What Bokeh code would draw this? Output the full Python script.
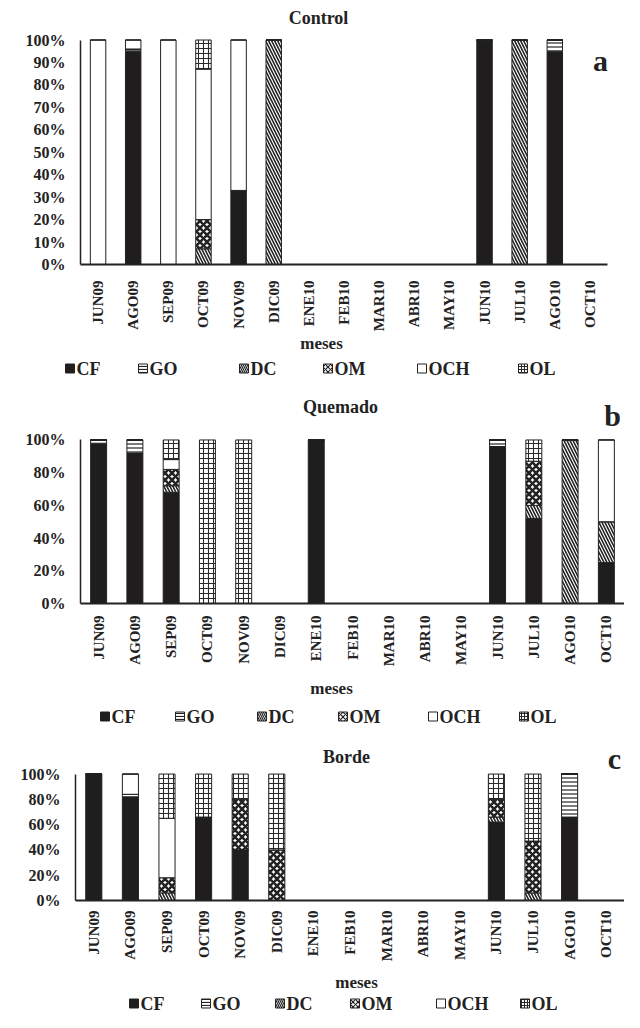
import math
from bokeh.plotting import figure
from bokeh.models import FactorRange, Range1d, FixedTicker, Label, ColumnDataSource
from bokeh.layouts import column
from bokeh.transform import stack
from bokeh.core.properties import value
from bokeh.embed import file_html
from bokeh.resources import INLINE

months = ["JUN09", "AGO09", "SEP09", "OCT09", "NOV09", "DIC09", "ENE10", "FEB10",
          "MAR10", "ABR10", "MAY10", "JUN10", "JUL10", "AGO10", "OCT10"]
series = ["CF", "GO", "DC", "OM", "OCH", "OL"]

# Control (a)
ctrl_cf  = [0, 95, 0, 0, 33, 0, 0, 0, 0, 0, 0, 100, 0, 95, 0]
ctrl_go  = [0, 1, 0, 0, 0, 0, 0, 0, 0, 0, 0, 0, 0, 5, 0]
ctrl_dc  = [0, 0, 0, 7, 0, 100, 0, 0, 0, 0, 0, 0, 100, 0, 0]
ctrl_om  = [0, 0, 0, 13, 0, 0, 0, 0, 0, 0, 0, 0, 0, 0, 0]
ctrl_och = [100, 4, 100, 67, 67, 0, 0, 0, 0, 0, 0, 0, 0, 0, 0]
ctrl_ol  = [0, 0, 0, 13, 0, 0, 0, 0, 0, 0, 0, 0, 0, 0, 0]

# Quemado (b)
quem_cf  = [98, 92, 68, 0, 0, 0, 100, 0, 0, 0, 0, 96, 52, 0, 25]
quem_go  = [2, 8, 0, 0, 0, 0, 0, 0, 0, 0, 0, 4, 0, 0, 0]
quem_dc  = [0, 0, 4, 0, 0, 0, 0, 0, 0, 0, 0, 0, 8, 100, 25]
quem_om  = [0, 0, 10, 0, 0, 0, 0, 0, 0, 0, 0, 0, 27, 0, 0]
quem_och = [0, 0, 6, 0, 0, 0, 0, 0, 0, 0, 0, 0, 0, 0, 50]
quem_ol  = [0, 0, 12, 100, 100, 0, 0, 0, 0, 0, 0, 0, 13, 0, 0]

# Borde (c)
bord_cf  = [100, 82, 0, 66, 40, 0, 0, 0, 0, 0, 0, 62, 0, 66, 0]
bord_go  = [0, 2, 0, 0, 0, 0, 0, 0, 0, 0, 0, 0, 0, 34, 0]
bord_dc  = [0, 0, 6, 0, 0, 0, 0, 0, 0, 0, 0, 4, 6, 0, 0]
bord_om  = [0, 0, 12, 0, 40, 40, 0, 0, 0, 0, 0, 14, 41, 0, 0]
bord_och = [0, 16, 47, 0, 0, 0, 0, 0, 0, 0, 0, 0, 0, 0, 0]
bord_ol  = [0, 0, 35, 34, 20, 60, 0, 0, 0, 0, 0, 20, 53, 0, 0]

FONT = "Liberation Serif"
INK = "#222222"
W = 624

STYLES = {
    "CF":  dict(fill_color="#1f1d1e", hatch_pattern="blank"),
    "GO":  dict(fill_color="white", hatch_pattern="horizontal_line", hatch_scale=4, hatch_weight=1.2, hatch_color=INK),
    "DC":  dict(fill_color="white", hatch_pattern="left_diagonal_line", hatch_scale=6, hatch_weight=1.6, hatch_color=INK),
    "OM":  dict(fill_color="white", hatch_pattern="diagonal_cross", hatch_scale=7, hatch_weight=2.6, hatch_color=INK),
    "OCH": dict(fill_color="white", hatch_pattern="blank"),
    "OL":  dict(fill_color="white", hatch_pattern="cross", hatch_scale=5, hatch_weight=1.1, hatch_color="#2a2a2a"),
}


def make_panel(name, letter, values, ticks, frame_h, y_end, b_bottom, b_left, b_right,
               title_px, title_y, letter_px, letter_y, lab_standoff):
    data = {"m": months}
    for s, v in zip(series, values):
        data[s] = v
    src = ColumnDataSource(data)
    p = figure(x_range=FactorRange(*months), y_range=Range1d(0, y_end),
               width=W, height=frame_h + b_bottom, output_backend="svg", toolbar_location=None,
               min_border_top=0, min_border_bottom=b_bottom,
               min_border_left=b_left, min_border_right=b_right)
    p.outline_line_color = None
    p.xgrid.grid_line_color = None
    p.ygrid.grid_line_color = None

    for i, s in enumerate(series):
        p.vbar(x="m", width=0.44, bottom=stack(*series[:i]), top=stack(*series[:i + 1]),
               source=src, line_color=INK, line_width=1, **STYLES[s])

    xa = p.xaxis[0]
    xa.major_label_orientation = math.pi / 2
    xa.major_tick_line_color = None
    xa.major_tick_out = 0
    xa.major_tick_in = 0
    xa.minor_tick_line_color = None
    xa.minor_tick_out = 0
    xa.axis_line_width = 2
    xa.axis_line_color = INK
    xa.major_label_text_font = FONT
    xa.major_label_text_font_style = "bold"
    xa.major_label_text_font_size = "15px"
    xa.major_label_text_color = INK
    xa.major_label_standoff = lab_standoff

    ya = p.yaxis[0]
    ya.ticker = FixedTicker(ticks=ticks)
    ya.bounds = (0, 100)
    ya.major_label_overrides = {t: f"{t}%" for t in ticks}
    ya.major_tick_line_color = None
    ya.major_tick_out = 0
    ya.major_tick_in = 0
    ya.minor_tick_line_color = None
    ya.minor_tick_out = 0
    ya.axis_line_width = 1.5
    ya.axis_line_color = INK
    ya.major_label_text_font = FONT
    ya.major_label_text_font_style = "bold"
    ya.major_label_text_font_size = "16px"
    ya.major_label_text_color = INK
    ya.major_label_standoff = 15

    step = (W - b_left - b_right) / len(months)
    p.add_layout(Label(x=(title_px - b_left) / step, y=title_y, text=name, text_align="center",
                       text_baseline="middle", text_font=FONT, text_font_style="bold",
                       text_font_size="18px", text_color=INK))
    p.add_layout(Label(x=(letter_px - b_left) / step, y=letter_y, text=letter, text_align="center",
                       text_baseline="middle", text_font=FONT, text_font_style="bold",
                       text_font_size="30px", text_color=INK))
    return p


def make_legend(height, xs, legend_from_top, meses_px, meses_from_top):
    lg = figure(width=W, height=height, x_range=Range1d(0, W), y_range=Range1d(0, height),
                output_backend="svg", toolbar_location=None, x_axis_type=None, y_axis_type=None,
                min_border=0)
    lg.outline_line_color = None
    lg.xgrid.grid_line_color = None
    lg.ygrid.grid_line_color = None
    lg.text(x=[meses_px], y=[height - meses_from_top], text=["meses"], text_align="center",
            text_baseline="middle", text_font=value(FONT), text_font_style="bold",
            text_font_size="17px", text_color=INK)
    yc = height - legend_from_top
    for s, x in zip(series, xs):
        st = dict(STYLES[s])
        if "hatch_scale" in st:
            st["hatch_scale"] = max(3, st["hatch_scale"] - 2)
            st["hatch_weight"] = min(1.2, st["hatch_weight"])
        lg.rect(x=[x + 4.5], y=[yc], width=9, height=9, line_color=INK, line_width=1, **st)
        lg.text(x=[x + 11], y=[yc], text=[s], text_align="left", text_baseline="middle",
                text_font=value(FONT), text_font_style="bold", text_font_size="18px",
                text_color=INK)
    return lg


pa = make_panel("Control", "a",
                [ctrl_cf, ctrl_go, ctrl_dc, ctrl_om, ctrl_och, ctrl_ol],
                list(range(0, 101, 10)), 267, 117.6, 67, 80, 17,
                318, 109.7, 600, 91.0, 16)
la = make_legend(51, [65, 138, 239, 323, 417, 518], 34, 321, 9)

pb = make_panel("Quemado", "b",
                [quem_cf, quem_go, quem_dc, quem_om, quem_och, quem_ol],
                list(range(0, 101, 20)), 220, 133.3, 64, 80, 0,
                340, 120.0, 612, 115.2, 12)
lb = make_legend(66, [100, 175, 257, 338, 428, 519], 47, 331, 19)

pc = make_panel("Borde", "c",
                [bord_cf, bord_go, bord_dc, bord_om, bord_och, bord_ol],
                list(range(0, 101, 20)), 167, 130.5, 62, 75, 0,
                346, 113.3, 614, 112.5, 10)
lc = make_legend(48, [129, 201, 275, 350, 436, 520], 39, 356, 18)

layout = column(column(pa), column(la), column(pb), column(lb), column(pc), column(lc), spacing=0)
open("out.html", "w").write(file_html(layout, INLINE))
